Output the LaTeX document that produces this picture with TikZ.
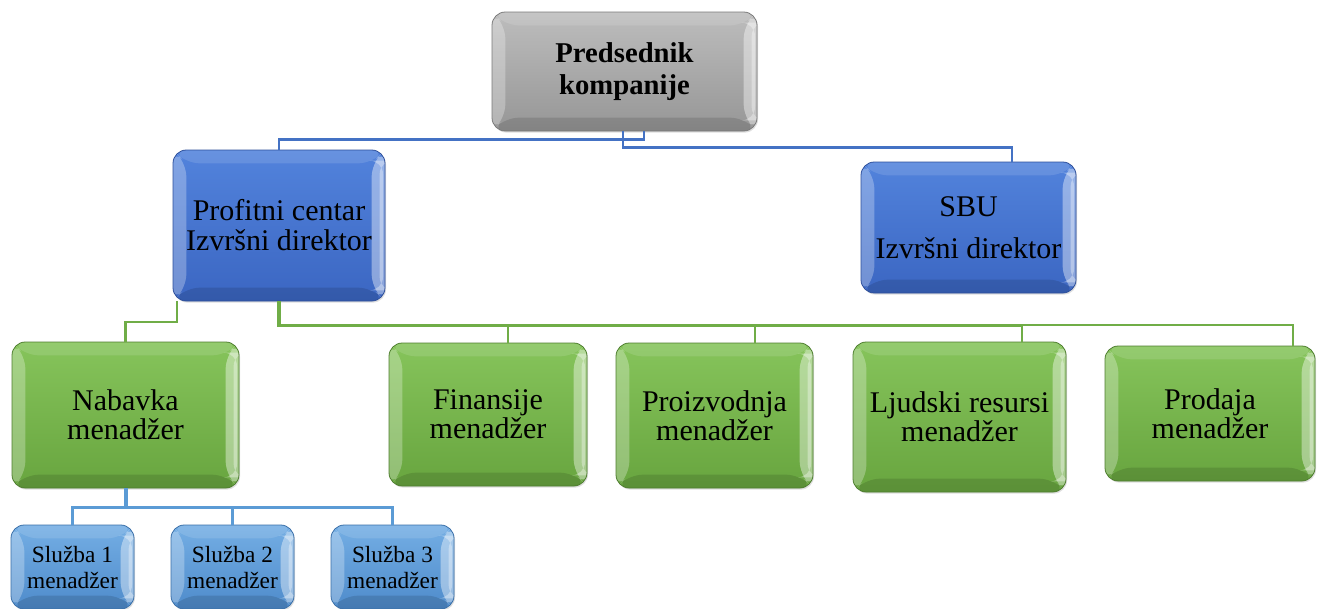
\documentclass[tikz,border=0pt]{standalone}
\usepackage{fontspec}
\setmainfont{Liberation Serif}
\usetikzlibrary{shadows}

\definecolor{grayTop}{HTML}{BDBDBD}
\definecolor{grayBot}{HTML}{969696}
\definecolor{grayEdge}{HTML}{7A7A7A}
\definecolor{blueTop}{HTML}{5283DC}
\definecolor{blueBot}{HTML}{3B66C2}
\definecolor{blueEdge}{HTML}{2E4F9A}
\definecolor{greenTop}{HTML}{86C45B}
\definecolor{greenBot}{HTML}{68A53F}
\definecolor{greenEdge}{HTML}{4E7D2F}
\definecolor{lblueTop}{HTML}{74AEE4}
\definecolor{lblueBot}{HTML}{4E8BCB}
\definecolor{lblueEdge}{HTML}{3A6FA8}
\definecolor{lineBlue}{HTML}{4472C4}
\definecolor{lineGreen}{HTML}{70AD47}
\definecolor{lineLBlue}{HTML}{5B9BD5}

\tikzset{
  boxsize/.style 2 args={minimum width=#1*0.75pt, minimum height=#2*0.75pt},
  orgbox/.style n args={3}{
    rounded corners=10pt, draw=#3, line width=0.6pt,
    top color=#1, bottom color=#2, align=center, inner sep=2pt,
    drop shadow={opacity=0.25, shadow xshift=0.8pt, shadow yshift=-1.2pt},
    path picture={
      % left bevel
      \fill[white,opacity=0.28] (path picture bounding box.north west)
        -- ([shift={(10pt,-10pt)}]path picture bounding box.north west)
        -- ([shift={(10pt,10pt)}]path picture bounding box.south west)
        -- (path picture bounding box.south west) -- cycle;
      % right bevel highlight
      \fill[white,opacity=0.40] (path picture bounding box.north east)
        -- ([shift={(-10pt,-10pt)}]path picture bounding box.north east)
        -- ([shift={(-10pt,10pt)}]path picture bounding box.south east)
        -- (path picture bounding box.south east) -- cycle;
      \fill[white,opacity=0.35] ([shift={(-4pt,-8pt)}]path picture bounding box.north east)
        rectangle ([shift={(-1.5pt,8pt)}]path picture bounding box.south east);
      % top bevel
      \fill[white,opacity=0.12] (path picture bounding box.north west)
        -- ([shift={(10pt,-10pt)}]path picture bounding box.north west)
        -- ([shift={(-10pt,-10pt)}]path picture bounding box.north east)
        -- (path picture bounding box.north east) -- cycle;
      % bottom bevel
      \fill[black,opacity=0.12] (path picture bounding box.south west)
        -- ([shift={(10pt,10pt)}]path picture bounding box.south west)
        -- ([shift={(-10pt,10pt)}]path picture bounding box.south east)
        -- (path picture bounding box.south east) -- cycle;
    }},
  graybox/.style={orgbox={grayTop}{grayBot}{grayEdge},
    font=\fontsize{21.5pt}{24pt}\selectfont\bfseries},
  bluebox/.style={orgbox={blueTop}{blueBot}{blueEdge},
    font=\fontsize{22.5pt}{22.5pt}\selectfont},
  greenbox/.style={orgbox={greenTop}{greenBot}{greenEdge},
    font=\fontsize{22.5pt}{22pt}\selectfont},
  lbluebox/.style={orgbox={lblueTop}{lblueBot}{lblueEdge},
    font=\fontsize{17.5pt}{19.5pt}\selectfont},
  bline/.style={draw=lineBlue, line width=1.9pt},
  gline/.style={draw=lineGreen, line width=1.6pt},
  gbus/.style={draw=lineGreen, line width=2.8pt},
  lbline/.style={draw=lineLBlue, line width=1.9pt},
}

\begin{document}
\begin{tikzpicture}[x=0.75pt, y=-0.75pt]
  \useasboundingbox (0,0) rectangle (1325,608);
  \clip (0,0) rectangle (1325,608);

  % top level
  \node[graybox, boxsize={265}{119}] (pres) at (624.5,71.5) {Predsednik\\kompanije};

  % executive level
  \node[bluebox, boxsize={212}{151}] (pc) at (279,225.5) {Profitni centar\\Izvršni direktor};
  \node[bluebox, boxsize={215}{131}] (sbu) at (968.5,227.5) {SBU\\[9pt]Izvršni direktor};

  % managers
  \node[greenbox, boxsize={227}{146}] (nab) at (125.5,415) {Nabavka\\menadžer};
  \node[greenbox, boxsize={198}{143}] (fin) at (488,414.5) {Finansije\\menadžer};
  \node[greenbox, boxsize={197}{145}] (pro) at (714.5,415.5) {Proizvodnja\\menadžer};
  \node[greenbox, boxsize={213}{150}] (lju) at (959.5,417) {Ljudski resursi\\menadžer};
  \node[greenbox, boxsize={210}{135}] (prd) at (1210,413.5) {Prodaja\\menadžer};

  % services
  \node[lbluebox, boxsize={123}{84}] (s1) at (72.5,567) {Služba 1\\menadžer};
  \node[lbluebox, boxsize={123}{84}] (s2) at (232.5,567) {Služba 2\\menadžer};
  \node[lbluebox, boxsize={123}{84}] (s3) at (392.5,567) {Služba 3\\menadžer};

  % president to executives
  \draw[bline] (pc.north) -- ++(0,-10) -| ([xshift=14.6pt]pres.south);
  \draw[bline] ([xshift=-1.1pt]pres.south) -- ++(0,16) -| ([xshift=32.6pt]sbu.north);

  % profit centre to managers
  \draw[gline] ([xshift=-76.5pt]pc.south) -- ++(0,21) -| (nab.north);
  \coordinate (finT) at ([xshift=15pt]fin.north);
  \coordinate (proT) at ([xshift=30.4pt]pro.north);
  \coordinate (ljuT) at ([xshift=46.9pt]lju.north);
  \coordinate (prdT) at ([xshift=62.25pt]prd.north);
  \draw[gbus] (pc.south) -- ++(0,24) coordinate (gb) -- (ljuT |- gb);
  \draw[gline] (ljuT |- gb) -- (ljuT);
  \draw[gline] (ljuT |- gb) -| (prdT);
  \draw[gline] (finT |- gb) -- (finT);
  \draw[gline] (proT |- gb) -- (proT);

  % purchasing to services
  \draw[lbline, line width=3pt] (nab.south) -- ++(0,19) coordinate (nb);
  \draw[lbline] (s1.north) -- (s1.north |- nb) -- (s3.north |- nb) -- (s3.north);
  \draw[lbline] (s2.north) -- (s2.north |- nb);
\end{tikzpicture}
\end{document}
